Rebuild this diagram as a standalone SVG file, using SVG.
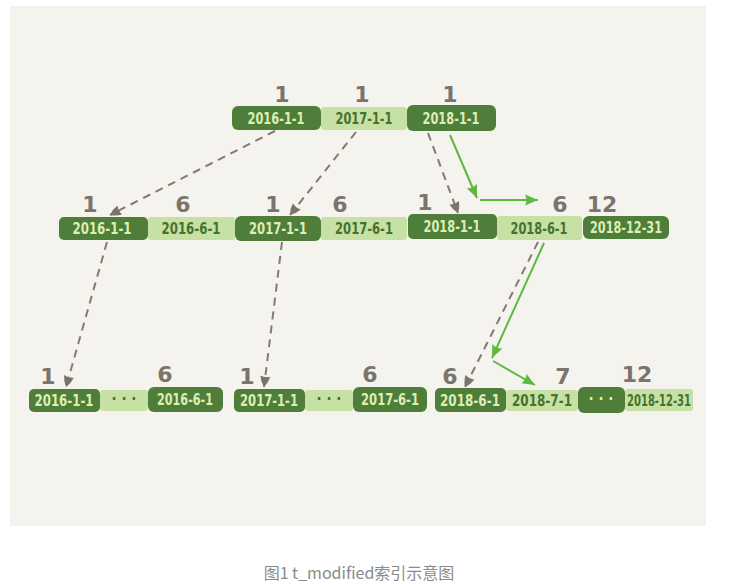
<svg xmlns="http://www.w3.org/2000/svg" width="740" height="584" viewBox="0 0 740 584">
  <defs>
    <style>
      .dk { fill: #4f7d3a; }
      .lt { fill: #c6e1a3; }
      .tk, .tl { font-family: "DejaVu Sans Condensed", "Liberation Sans Narrow", sans-serif; font-size: 15px; font-weight: bold; text-anchor: middle; }
      .tk { fill: #dcefb4; }
      .tl { fill: #45722f; }
      .num { font-family: "DejaVu Sans", sans-serif; font-size: 22px; font-weight: bold; text-anchor: middle; fill: #7b736c; }
      .dash { fill: none; stroke: #847a73; stroke-width: 2; stroke-dasharray: 8 6; marker-end: url(#gh); }
      .grn { fill: none; stroke: #5cb93e; stroke-width: 2; marker-end: url(#gr); }
      .cap { font-family: "Noto Sans CJK SC", "Noto Sans", sans-serif; font-size: 16px; fill: #8a8a8a; text-anchor: middle; }
    </style>
    <marker id="gh" viewBox="0 0 12 12" refX="11" refY="6" markerWidth="12" markerHeight="12" markerUnits="userSpaceOnUse" orient="auto">
      <path d="M0,1 Q6,2 11,6 Q6,10 0,11 Q2,6 0,1 Z" fill="#7b736c"/>
    </marker>
    <marker id="gr" viewBox="0 0 14 12" refX="13" refY="6" markerWidth="14" markerHeight="12" markerUnits="userSpaceOnUse" orient="auto">
      <path d="M0,0.5 L13,6 L0,11.5 Q3,6 0,0.5 Z" fill="#5cb93e"/>
    </marker>
  </defs>

  <!-- canvas -->
  <rect x="10" y="6" width="696" height="520" fill="#f4f3ee"/>

  <!-- connectors -->
  <g id="connectors">
    <line class="dash" x1="275" y1="131" x2="110" y2="215"/>
    <line class="dash" x1="356" y1="132" x2="290" y2="215"/>
    <line class="dash" x1="428" y1="133" x2="458" y2="213"/>
    <line class="dash" x1="107" y1="242" x2="66" y2="387"/>
    <line class="dash" x1="282" y1="242" x2="264" y2="387"/>
    <line class="dash" x1="538" y1="242" x2="465" y2="387"/>
    <line class="grn" x1="450" y1="135" x2="477" y2="198"/>
    <line class="grn" x1="480" y1="200" x2="538" y2="200"/>
    <line class="grn" x1="544" y1="243" x2="492" y2="358"/>
    <line class="grn" x1="493" y1="361" x2="535" y2="385"/>
  </g>

  <!-- root page -->
  <g id="root-2016-1-1">
    <rect class="dk" x="232" y="106" width="89" height="24" rx="6"/>
    <text class="tk" x="276" y="124" textLength="57" lengthAdjust="spacingAndGlyphs">2016-1-1</text>
    <text class="num" x="282" y="102">1</text>
  </g>
  <g id="root-2017-1-1">
    <rect class="lt" x="321" y="107" width="86" height="23" rx="3"/>
    <text class="tl" x="364" y="124" textLength="57" lengthAdjust="spacingAndGlyphs">2017-1-1</text>
    <text class="num" x="362" y="102">1</text>
  </g>
  <g id="root-2018-1-1">
    <rect class="dk" x="407" y="105" width="89" height="26" rx="6"/>
    <text class="tk" x="451" y="124" textLength="57" lengthAdjust="spacingAndGlyphs">2018-1-1</text>
    <text class="num" x="450" y="102">1</text>
  </g>

  <!-- inner pages -->
  <g id="mid-2016-1-1">
    <rect class="dk" x="59" y="217" width="89" height="23" rx="5"/>
    <text class="tk" x="102" y="234" textLength="59" lengthAdjust="spacingAndGlyphs">2016-1-1</text>
    <text class="num" x="90" y="212">1</text>
  </g>
  <g id="mid-2016-6-1">
    <rect class="lt" x="148" y="217" width="87" height="23" rx="3"/>
    <text class="tl" x="191" y="234" textLength="59" lengthAdjust="spacingAndGlyphs">2016-6-1</text>
    <text class="num" x="183" y="212">6</text>
  </g>
  <g id="mid-2017-1-1">
    <rect class="dk" x="235" y="216" width="86" height="25" rx="6"/>
    <text class="tk" x="278" y="234" textLength="58" lengthAdjust="spacingAndGlyphs">2017-1-1</text>
    <text class="num" x="273" y="212">1</text>
  </g>
  <g id="mid-2017-6-1">
    <rect class="lt" x="321" y="217" width="86" height="23" rx="3"/>
    <text class="tl" x="364" y="234" textLength="58" lengthAdjust="spacingAndGlyphs">2017-6-1</text>
    <text class="num" x="340" y="212">6</text>
  </g>
  <g id="mid-2018-1-1">
    <rect class="dk" x="408" y="214" width="89" height="25" rx="5"/>
    <text class="tk" x="452" y="232" textLength="57" lengthAdjust="spacingAndGlyphs">2018-1-1</text>
    <text class="num" x="425" y="210">1</text>
  </g>
  <g id="mid-2018-6-1">
    <rect class="lt" x="497" y="216" width="85" height="24" rx="3"/>
    <text class="tl" x="539" y="234" textLength="57" lengthAdjust="spacingAndGlyphs">2018-6-1</text>
    <text class="num" x="560" y="212">6</text>
  </g>
  <g id="mid-2018-12-31">
    <rect class="dk" x="583" y="216" width="86" height="23" rx="6"/>
    <text class="tk" x="626" y="233" textLength="72" lengthAdjust="spacingAndGlyphs">2018-12-31</text>
    <text class="num" x="602" y="212">12</text>
  </g>

  <!-- leaf pages -->
  <g id="leaf-2016-1-1">
    <rect class="dk" x="29" y="389" width="71" height="23" rx="5"/>
    <text class="tk" x="64" y="406" textLength="59" lengthAdjust="spacingAndGlyphs">2016-1-1</text>
    <text class="num" x="48" y="384">1</text>
  </g>
  <g id="leaf-gap-2016">
    <rect class="lt" x="100" y="390" width="48" height="21" rx="3"/>
    <text class="tl" x="124" y="404">· · ·</text>
  </g>
  <g id="leaf-2016-6-1">
    <rect class="dk" x="148" y="387" width="75" height="25" rx="6"/>
    <text class="tk" x="185" y="405" textLength="56" lengthAdjust="spacingAndGlyphs">2016-6-1</text>
    <text class="num" x="165" y="382">6</text>
  </g>
  <g id="leaf-2017-1-1">
    <rect class="dk" x="234" y="389" width="71" height="23" rx="5"/>
    <text class="tk" x="269" y="406" textLength="58" lengthAdjust="spacingAndGlyphs">2017-1-1</text>
    <text class="num" x="247" y="384">1</text>
  </g>
  <g id="leaf-gap-2017">
    <rect class="lt" x="305" y="390" width="48" height="21" rx="3"/>
    <text class="tl" x="329" y="404">· · ·</text>
  </g>
  <g id="leaf-2017-6-1">
    <rect class="dk" x="353" y="387" width="74" height="25" rx="6"/>
    <text class="tk" x="390" y="405" textLength="58" lengthAdjust="spacingAndGlyphs">2017-6-1</text>
    <text class="num" x="370" y="382">6</text>
  </g>
  <g id="leaf-2018-6-1">
    <rect class="dk" x="435" y="388" width="71" height="24" rx="5"/>
    <text class="tk" x="470" y="406" textLength="60" lengthAdjust="spacingAndGlyphs">2018-6-1</text>
    <text class="num" x="450" y="384">6</text>
  </g>
  <g id="leaf-2018-7-1">
    <rect class="lt" x="506" y="390" width="72" height="21" rx="3"/>
    <text class="tl" x="542" y="406" textLength="60" lengthAdjust="spacingAndGlyphs">2018-7-1</text>
    <text class="num" x="563" y="384">7</text>
  </g>
  <g id="leaf-gap-2018">
    <rect class="dk" x="578" y="387" width="47" height="26" rx="6"/>
    <text class="tk" x="601" y="404">· · ·</text>
  </g>
  <g id="leaf-2018-12-31">
    <rect class="lt" x="625" y="389" width="68" height="22" rx="3"/>
    <text class="tl" x="659" y="406" textLength="64" lengthAdjust="spacingAndGlyphs">2018-12-31</text>
    <text class="num" x="637" y="382">12</text>
  </g>

  <!-- caption -->
  <text class="cap" x="359" y="579">图1 t_modified索引示意图</text>
</svg>
